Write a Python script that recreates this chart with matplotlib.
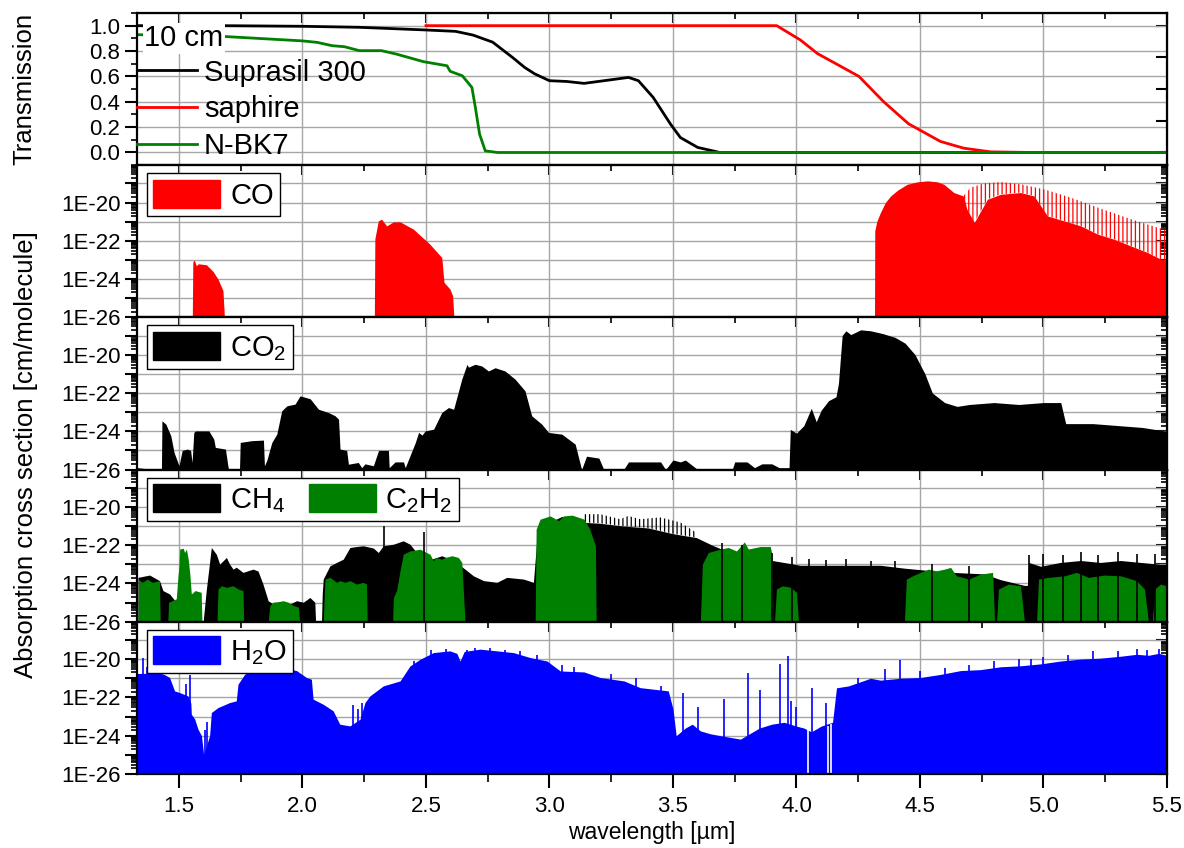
import numpy as np
import matplotlib.pyplot as plt
from matplotlib.patches import Patch
from matplotlib.ticker import MultipleLocator, LogLocator, FuncFormatter, NullFormatter

plt.rcParams['font.family'] = ['Liberation Sans', 'DejaVu Sans']
plt.rcParams['mathtext.fontset'] = 'custom'
plt.rcParams['mathtext.rm'] = 'Liberation Sans'
plt.rcParams['mathtext.it'] = 'Liberation Sans:italic'
plt.rcParams['hatch.linewidth'] = 0.9

# ---- transmission of 10 cm windows ----
wl_suprasil = [1.30, 1.67, 2.00, 2.23, 2.50, 2.62, 2.69, 2.77, 2.85, 2.90, 2.94, 3.00, 3.07, 3.14,
               3.24, 3.32, 3.36, 3.42, 3.49, 3.53, 3.60, 3.69, 5.50]
T_suprasil = [1.0, 1.0, 0.995, 0.987, 0.966, 0.955, 0.926, 0.87, 0.75, 0.67, 0.62, 0.566, 0.56, 0.545,
              0.571, 0.592, 0.566, 0.434, 0.224, 0.118, 0.04, 0.0, 0.0]
wl_saphire = [2.50, 3.92, 4.016, 4.085, 4.253, 4.353, 4.454, 4.583, 4.677, 4.786, 4.96, 5.50]
T_saphire = [1.0, 1.0, 0.887, 0.78, 0.60, 0.40, 0.226, 0.087, 0.034, 0.005, 0.0, 0.0]
wl_nbk7 = [1.30, 1.67, 2.00, 2.06, 2.12, 2.17, 2.23, 2.32, 2.38, 2.49, 2.585, 2.598, 2.647, 2.686,
           2.70, 2.717, 2.74, 2.79, 5.50]
T_nbk7 = [0.93, 0.916, 0.88, 0.868, 0.842, 0.834, 0.803, 0.803, 0.776, 0.716, 0.684, 0.64, 0.605, 0.513,
          0.355, 0.145, 0.013, 0.0, 0.0]

# ---- absorption cross sections: envelope exponents, log10(cm/molecule) ----
co_wl = [1.554, 1.556, 1.562, 1.570, 1.578, 1.611, 1.638, 1.658, 1.678, 1.684,
         2.291, 2.293, 2.307, 2.320, 2.341, 2.368, 2.395, 2.449, 2.516, 2.564, 2.573, 2.597, 2.608, 2.613,
         4.316, 4.317, 4.325, 4.340, 4.360, 4.381, 4.410, 4.448, 4.490, 4.530, 4.570, 4.597, 4.637, 4.676]
co_exp = [-26, -23.1, -23.0, -23.3, -23.2, -23.25, -23.6, -24.0, -24.6, -26,
          -26, -21.9, -20.96, -20.87, -21.22, -21.01, -21.01, -21.39, -22.18, -22.87, -24.17, -24.52, -24.87, -26,
          -26, -21.48, -21.0, -20.52, -20.0, -19.66, -19.35, -19.05, -18.92, -18.87, -18.92, -19.05, -19.48, -19.66]
# CO fundamental line region: solid core and line tips
co_core_wl = [4.676, 4.69, 4.72, 4.773, 4.827, 4.908, 4.962, 5.016, 5.083, 5.151, 5.219, 5.286, 5.354, 5.421,
              5.475, 5.50]
co_core_exp = [-19.66, -20.35, -21.04, -19.83, -19.57, -19.48, -19.66, -20.7, -20.96, -21.22, -21.65, -21.92,
               -22.27, -22.61, -22.96, -23.0]
co_tip_wl = [4.676, 4.705, 4.759, 4.827, 4.908, 5.002, 5.110, 5.219, 5.354, 5.462, 5.50]
co_tip_exp = [-19.66, -19.22, -19.0, -18.93, -19.05, -19.31, -19.74, -20.26, -20.87, -21.31, -21.45]

co2_wl = [1.33, 1.40, 1.429, 1.431, 1.447, 1.467, 1.480, 1.500, 1.513, 1.534, 1.547, 1.553, 1.560, 1.567,
          1.621, 1.641, 1.647, 1.688, 1.698, 1.701, 1.745, 1.748, 1.795, 1.842, 1.846, 1.856, 1.876, 1.896,
          1.916, 1.937, 1.970, 1.990, 2.004, 2.031, 2.065, 2.105, 2.132, 2.146, 2.152, 2.179, 2.186, 2.226,
          2.240, 2.253, 2.287, 2.308, 2.348, 2.351, 2.375, 2.409, 2.416, 2.457, 2.470, 2.484, 2.497, 2.531,
          2.564, 2.591, 2.612, 2.645, 2.666, 2.672, 2.699, 2.726, 2.753, 2.780, 2.820, 2.861, 2.901, 2.928,
          2.969, 2.996, 3.050, 3.104, 3.13, 3.15, 3.20, 3.22, 3.30, 3.32, 3.45, 3.47, 3.50, 3.53, 3.55, 3.60,
          3.62, 3.74, 3.75, 3.80, 3.83, 3.86, 3.90, 3.93, 3.97, 3.975, 4.00, 4.03, 4.06, 4.08, 4.10, 4.13, 4.16,
          4.17, 4.185, 4.20, 4.22, 4.26, 4.30, 4.35, 4.40, 4.44, 4.48, 4.52, 4.55, 4.60, 4.65, 4.70, 4.80, 4.90,
          5.00, 5.07, 5.09, 5.20, 5.30, 5.40, 5.50]
co2_exp = [-25.9, -26, -26, -23.45, -23.63, -24.24, -25.1, -25.8, -25.0, -24.93, -25.0, -25.63, -24.06, -23.98,
           -23.98, -24.41, -24.84, -24.93, -25.8, -26, -26, -24.58, -24.49, -24.46, -25.8, -25.5, -24.58, -24.15,
           -22.93, -22.67, -22.58, -22.15, -22.2, -22.3, -22.85, -23.02, -23.19, -23.37, -24.93, -25.0, -25.72, -25.63,
           -25.9, -25.7, -25.8, -25.0, -25.0, -25.9, -25.6, -25.6, -25.9, -24.58, -24.06, -24.2, -23.98, -23.89,
           -23.02, -22.76, -22.85, -21.27, -20.5, -20.65, -20.5, -20.59, -20.85, -20.68, -20.85, -21.28, -21.89, -23.19,
           -23.63, -24.06, -24.15, -24.67, -26, -25.3, -25.4, -26, -26, -25.6, -25.6, -26, -25.5, -25.6, -25.5, -26,
           -26, -26, -25.6, -25.6, -25.9, -25.7, -25.7, -25.9, -25.9, -23.9, -24.1, -23.7, -22.8, -23.5, -22.9, -22.4,
           -22.2, -21.5, -19.0, -18.75, -18.95, -18.7, -18.75, -18.9, -19.1, -19.4, -20.0, -21.0, -22.0, -22.5, -22.7,
           -22.6, -22.5, -22.6, -22.5, -22.5, -23.6, -23.6, -23.7, -23.8, -24.0]

ch4_wl = [1.334, 1.381, 1.421, 1.435, 1.462, 1.489, 1.496, 1.598, 1.600, 1.611, 1.631, 1.651, 1.665, 1.692,
          1.705, 1.719, 1.732, 1.759, 1.800, 1.820, 1.840, 1.861, 1.881, 1.908, 1.949, 1.976, 2.003, 2.030,
          2.050, 2.053, 2.077, 2.080, 2.084, 2.111, 2.138, 2.165, 2.192, 2.219, 2.246, 2.287, 2.307, 2.327,
          2.368, 2.408, 2.435, 2.462, 2.489, 2.523, 2.564, 2.611, 2.658, 2.692, 2.733, 2.787, 2.827, 2.895,
          2.935, 2.95, 3.00, 3.05, 3.140]
ch4_exp = [-23.68, -23.56, -23.85, -24.37, -24.55, -24.98, -26, -26, -25.7, -24.29, -22.12, -22.47, -22.99, -22.64,
           -22.99, -23.25, -23.15, -23.42, -23.25, -23.35, -24.03, -24.9, -25.07, -24.98, -25.07, -24.9, -24.98, -24.73,
           -24.98, -26, -26, -24.55, -23.77, -23.08, -22.9, -22.73, -22.12, -22.07, -22.03, -22.15, -22.38, -22.03,
           -21.95, -21.77, -21.95, -22.38, -22.38, -22.73, -22.55, -22.8, -23.25, -23.6, -23.85, -23.94, -23.68, -23.77,
           -23.94, -21.5, -20.8, -20.5, -20.81]
# line region of CH4 around 3.3 um
ch4_core_wl = [3.140, 3.20, 3.30, 3.40, 3.50, 3.594]
ch4_core_exp = [-20.81, -20.85, -21.0, -21.1, -21.4, -21.6]
ch4_tip_wl = [3.140, 3.205, 3.286, 3.319, 3.367, 3.449, 3.530, 3.594]
ch4_tip_exp = [-20.38, -20.38, -20.64, -20.47, -20.64, -20.55, -20.81, -21.34]
ch4_tail_wl = [3.594, 3.659, 3.724, 3.805, 3.902, 4.016, 4.178, 4.340, 4.437, 4.599, 4.761, 4.826, 4.923, 4.935,
               4.940, 4.988, 5.069, 5.150, 5.231, 5.312, 5.393, 5.474, 5.50]
ch4_tail_exp = [-21.6, -22.0, -22.35, -22.35, -22.8, -23.05, -23.05, -23.05, -23.2, -23.4, -23.5, -23.8, -24.1, -24.1,
                -22.9, -23.1, -22.9, -22.8, -22.9, -22.8, -22.9, -23.0, -23.0]
ch4_spike_wl = [2.330, 2.490, 3.70, 3.78, 3.90, 3.98, 4.05, 4.12, 4.20, 4.30, 4.40, 4.55, 4.70, 4.942, 5.00, 5.08,
                5.15, 5.22, 5.30, 5.38, 5.45]
ch4_spike_exp = [-21.0, -21.3, -21.9, -22.0, -22.4, -22.6, -22.7, -22.75, -22.7, -22.8, -22.85, -23.0, -23.1, -22.5,
                 -22.45, -22.5, -22.35, -22.5, -22.35, -22.45, -22.45]

c2h2_wl = [1.334, 1.336, 1.350, 1.372, 1.392, 1.421, 1.424, 1.455, 1.458, 1.489, 1.496, 1.500, 1.503, 1.517, 1.523,
           1.530, 1.537, 1.544, 1.550, 1.565, 1.590, 1.593, 1.654, 1.658, 1.672, 1.692, 1.719, 1.739, 1.759, 1.762,
           1.861, 1.868, 1.881, 1.901, 1.922, 1.942, 1.962, 1.983, 1.989, 2.084, 2.091, 2.111, 2.138, 2.151, 2.172,
           2.192, 2.219, 2.246, 2.259, 2.262, 2.365, 2.368, 2.381, 2.395, 2.408, 2.435, 2.476, 2.516, 2.530, 2.537,
           2.564, 2.578, 2.605, 2.631, 2.645, 2.658, 2.942, 2.946, 2.962, 3.003, 3.037, 3.057, 3.092, 3.140, 3.163,
           3.186, 3.189, 3.611, 3.619, 3.643, 3.692, 3.724, 3.757, 3.789, 3.805, 3.854, 3.894, 3.902, 3.904, 3.911,
           3.919, 3.943, 3.976, 4.000, 4.008, 4.437, 4.445, 4.470, 4.502, 4.534, 4.566, 4.599, 4.624, 4.648, 4.697,
           4.745, 4.794, 4.802, 4.810, 4.818, 4.858, 4.907, 4.923, 4.972, 4.980, 5.021, 5.085, 5.134, 5.182, 5.247,
           5.312, 5.377, 5.409, 5.425, 5.441, 5.450, 5.474, 5.498, 5.50]
c2h2_exp = [-26, -23.77, -23.94, -23.77, -23.94, -23.85, -26, -26, -24.98, -24.8, -23.6, -23.1, -22.2, -22.16, -22.38,
            -22.2, -22.7, -23.5, -24.55, -24.37, -24.46, -26, -26, -24.29, -24.12, -24.2, -24.12, -24.29, -24.37, -26,
            -26, -25.15, -24.98, -24.95, -24.9, -24.98, -25.15, -25.23, -26, -26, -23.77, -23.68, -23.94, -23.85, -23.94,
            -23.85, -24.03, -23.94, -24.03, -26, -26, -24.73, -24.37, -23.33, -22.47, -22.3, -22.21, -22.47, -22.82, -22.64,
            -22.73, -22.64, -22.55, -22.64, -22.9, -26, -26, -21.16, -20.64, -20.47, -20.72, -20.47, -20.43, -20.64, -21.16,
            -22.03, -26, -26, -22.99, -22.38, -22.2, -22.12, -22.3, -21.83, -22.2, -22.07, -22.07, -22.55, -26, -26,
            -24.29, -24.12, -24.2, -24.46, -26, -26, -23.77, -23.6, -23.42, -23.25, -23.34, -23.25, -23.16, -23.6, -23.77,
            -23.51, -23.42, -26, -26, -24.29, -24.03, -24.12, -26, -26, -23.77, -23.68, -23.6, -23.42, -23.68, -23.56,
            -23.6, -23.85, -24.29, -26, -26, -24.29, -24.03, -24.12, -24.12]

h2o_wl = [1.330, 1.360, 1.408, 1.440, 1.462, 1.482, 1.503, 1.536, 1.548, 1.550, 1.564, 1.577, 1.591, 1.600, 1.611,
          1.624, 1.631, 1.658, 1.705, 1.732, 1.739, 1.766, 1.813, 1.867, 1.935, 1.976, 2.016, 2.036, 2.043, 2.084,
          2.124, 2.151, 2.192, 2.233, 2.253, 2.273, 2.327, 2.395, 2.435, 2.476, 2.530, 2.597, 2.625, 2.638, 2.655,
          2.719, 2.787, 2.854, 2.922, 2.990, 3.044, 3.140, 3.205, 3.302, 3.367, 3.481, 3.500, 3.513, 3.550, 3.578,
          3.611, 3.651, 3.692, 3.773, 3.850, 3.900, 3.950, 4.000, 4.030, 4.060, 4.100, 4.146, 4.162, 4.211, 4.300,
          4.340, 4.421, 4.502, 4.583, 4.664, 4.745, 4.826, 4.907, 4.988, 5.069, 5.150, 5.231, 5.312, 5.377, 5.426,
          5.466, 5.50]
h2o_exp = [-20.75, -20.75, -20.67, -20.8, -20.96, -21.66, -21.75, -21.92, -22.3, -22.88, -23.14, -23.66, -24.0, -25.0,
           -24.53, -24.0, -22.79, -22.53, -22.27, -22.18, -21.31, -20.79, -20.53, -20.53, -20.5, -20.6, -20.96, -21.05,
           -22.09, -22.36, -22.7, -23.4, -23.49, -23.14, -22.27, -21.92, -21.4, -21.14, -20.36, -20.01, -19.66, -19.57,
           -19.7, -20.1, -19.6, -19.48, -19.57, -19.66, -19.92, -20.1, -20.62, -20.67, -20.96, -21.14, -21.49, -21.66,
           -22.6, -24.0, -23.6, -23.4, -23.75, -23.9, -24.0, -24.18, -23.6, -23.4, -23.3, -23.5, -23.6, -23.8, -23.5,
           -23.3, -21.5, -21.4, -21.0, -21.1, -21.0, -20.96, -20.8, -20.6, -20.55, -20.4, -20.35, -20.25, -20.1, -20.0,
           -19.95, -19.85, -19.75, -19.8, -19.7, -19.8]
h2o_spike_wl = [1.354, 1.372, 1.530, 1.546, 1.606, 1.615, 2.205, 2.225, 2.243, 2.450, 2.520, 2.580, 2.665, 2.700,
                2.760, 2.820, 2.880, 2.950, 3.050, 3.100, 3.250, 3.350, 3.450, 3.540, 3.600, 3.708, 3.805, 3.854,
                3.935, 3.967, 3.976, 4.000, 4.064, 4.120, 4.250, 4.360, 4.421, 4.500, 4.600, 4.700, 4.800, 4.900,
                4.950, 5.000, 5.100, 5.200, 5.300, 5.377, 5.420, 5.466]
h2o_spike_exp = [-19.92, -20.4, -21.3, -20.82, -23.7, -23.3, -22.4, -22.6, -22.3, -20.1, -19.5, -19.45, -19.55, -19.4,
                 -19.42, -19.5, -19.6, -19.8, -20.3, -20.4, -20.8, -21.0, -21.4, -21.75, -22.5, -22.1, -20.7, -21.6,
                 -20.27, -19.83, -22.2, -22.5, -21.49, -22.3, -21.0, -20.5, -20.05, -20.6, -20.45, -20.3, -20.1, -20.0,
                 -20.0, -19.9, -19.8, -19.6, -19.6, -19.49, -19.5, -19.49]
# deep windows between H2O lines (bottom, top)
h2o_gap_wl = [4.048, 4.129, 4.140]
h2o_gap_lo = [-26, -26, -26]
h2o_gap_hi = [-23.6, -23.5, -23.4]

XMIN, XMAX = 1.33, 5.5
LOG_TOP = 10 ** -18.05
FLOOR = 1e-26
TICK_FS = 16
LAB_FS = 18.5
LEG_FS = 21


def exp_fmt(v, pos):
    e = int(round(np.log10(v)))
    return f"1E{e}" if (e % 2 == 0 and e <= -20) else ""


def style_axes(ax, last):
    ax.set_xlim(XMIN, XMAX)
    ax.xaxis.set_major_locator(MultipleLocator(0.5))
    ax.xaxis.set_minor_locator(MultipleLocator(0.25))
    ax.set_axisbelow(True)
    ax.grid(True, which='major', color='#a6a6a6', linewidth=1.0)
    for s in ax.spines.values():
        s.set_linewidth(1.6)
    ax.tick_params(axis='y', which='major', direction='out', length=9, width=1.5, labelsize=TICK_FS, pad=3)
    ax.tick_params(axis='y', which='minor', direction='out', length=4.5, width=1.2)
    if last:
        ax.tick_params(axis='x', which='major', direction='out', length=10, width=1.5, labelsize=TICK_FS, pad=6)
        ax.tick_params(axis='x', which='minor', direction='out', length=5.5, width=1.2)
    else:
        ax.tick_params(axis='x', which='both', bottom=False, labelbottom=False)
    top = ax.secondary_xaxis('top')
    top.xaxis.set_major_locator(MultipleLocator(0.5))
    top.xaxis.set_minor_locator(MultipleLocator(0.25))
    top.tick_params(which='major', direction='in', length=7, width=1.5, labeltop=False)
    top.tick_params(which='minor', direction='in', length=4, width=1.2)
    right = ax.secondary_yaxis('right')
    right.tick_params(which='major', direction='in', length=8, width=1.5, labelright=False)
    right.tick_params(which='minor', direction='in', length=4, width=1.2)
    return right


def log_axes(ax, last=False):
    ax.set_yscale('log')
    ax.set_ylim(FLOOR, LOG_TOP)
    right = style_axes(ax, last)
    for a in (ax, right):
        a.yaxis.set_major_locator(LogLocator(base=10, subs=(1.0,), numticks=20))
        a.yaxis.set_minor_locator(LogLocator(base=10, subs=np.arange(2, 10) * 1.0, numticks=20))
        a.yaxis.set_minor_formatter(NullFormatter())
    ax.yaxis.set_major_formatter(FuncFormatter(exp_fmt))
    right.yaxis.set_major_formatter(NullFormatter())


def pw(ex):
    return 10 ** np.asarray(ex, dtype=float)


def band(ax, wl, ex, color):
    ax.fill_between(wl, FLOOR, pw(ex), color=color, linewidth=0)


def line_tips(ax, wl_core, ex_core, wl_tip, ex_tip, color):
    # hatched strip between the solid core and the line tips
    xs = list(wl_tip) + list(wl_core[::-1])
    ys = list(pw(ex_tip)) + list(pw(ex_core[::-1]))
    ax.fill(xs, ys, facecolor='none', edgecolor=color, hatch='||||', linewidth=0)


def spikes(ax, wl, ex, color, lw=1.2):
    ax.vlines(wl, FLOOR, pw(ex), colors=color, linewidth=lw)


legend_kw = dict(loc='upper left', fontsize=LEG_FS, frameon=True, fancybox=False, edgecolor='black',
                 framealpha=1, borderpad=0.22, borderaxespad=0, handlelength=2.3, handleheight=1.1,
                 handletextpad=0.33)

fig, axes = plt.subplots(5, 1, figsize=(11.84, 8.48), dpi=100, sharex=True)
fig.subplots_adjust(left=0.1157, right=0.9856, top=0.9847, bottom=0.0873, hspace=0)
ax_t, ax_co, ax_co2, ax_ch, ax_h2o = axes

# transmission
style_axes(ax_t, False)
ax_t.set_ylim(-0.1, 1.1)
ax_t.yaxis.set_major_locator(MultipleLocator(0.2))
ax_t.yaxis.set_minor_locator(MultipleLocator(0.1))
ax_t.yaxis.set_major_formatter(FuncFormatter(lambda v, p: f"{v:.1f}"))
l1, = ax_t.plot(wl_suprasil, T_suprasil, color='black', lw=2.0, label='Suprasil 300')
l2, = ax_t.plot(wl_saphire, T_saphire, color='#ff0000', lw=2.0, label='saphire')
l3, = ax_t.plot(wl_nbk7, T_nbk7, color='#008000', lw=2.0, label='N-BK7')
ax_t.legend(handles=[l1, l2, l3], loc='upper left', bbox_to_anchor=(0.0, 0.70), fontsize=LEG_FS,
            frameon=False, borderpad=0, borderaxespad=0, handlelength=2.05, handletextpad=0.25,
            labelspacing=0.3)
ax_t.text(0.007, 0.835, '10 cm', transform=ax_t.transAxes, fontsize=LEG_FS, ha='left', va='center',
          bbox=dict(facecolor='white', edgecolor='none', pad=1.0), zorder=5)

# CO
log_axes(ax_co)
band(ax_co, co_wl + co_core_wl[1:], co_exp + co_core_exp[1:], '#ff0000')
line_tips(ax_co, co_core_wl, co_core_exp, co_tip_wl, co_tip_exp, '#ff0000')
ax_co.legend(handles=[Patch(color='#ff0000', label='CO')], bbox_to_anchor=(0.0097, 0.947), **legend_kw)

# CO2
log_axes(ax_co2)
band(ax_co2, co2_wl, co2_exp, 'black')
ax_co2.legend(handles=[Patch(color='black', label='CO$_2$')], bbox_to_anchor=(0.0097, 0.947), **legend_kw)

# CH4 and C2H2
log_axes(ax_ch)
band(ax_ch, ch4_wl + ch4_core_wl[1:] + ch4_tail_wl[1:], ch4_exp + ch4_core_exp[1:] + ch4_tail_exp[1:], 'black')
line_tips(ax_ch, ch4_core_wl, ch4_core_exp, ch4_tip_wl, ch4_tip_exp, 'black')
spikes(ax_ch, ch4_spike_wl, ch4_spike_exp, 'black')
band(ax_ch, c2h2_wl, c2h2_exp, '#008000')
ax_ch.legend(handles=[Patch(color='black', label='CH$_4$'), Patch(color='#008000', label='C$_2$H$_2$')],
             ncol=2, columnspacing=0.8, bbox_to_anchor=(0.0097, 0.947), **legend_kw)

# H2O
log_axes(ax_h2o, last=True)
band(ax_h2o, h2o_wl, h2o_exp, '#0000ff')
spikes(ax_h2o, h2o_spike_wl, h2o_spike_exp, '#0000ff')
ax_h2o.vlines(h2o_gap_wl, pw(h2o_gap_lo), pw(h2o_gap_hi), colors='white', linewidth=1.2)
ax_h2o.legend(handles=[Patch(color='#0000ff', label='H$_2$O')], bbox_to_anchor=(0.0097, 0.947), **legend_kw)
ax_h2o.set_xlabel('wavelength [µm]', fontsize=16.5, labelpad=3)

# y labels
p0 = ax_t.get_position()
fig.text(0.021, (p0.y0 + p0.y1) / 2, 'Transmission', rotation=90, ha='center', va='center', fontsize=LAB_FS)
fig.text(0.022, 0.4634, 'Absorption cross section [cm/molecule]', rotation=90,
         ha='center', va='center', fontsize=LAB_FS)

fig.savefig('out.png', dpi=100)
